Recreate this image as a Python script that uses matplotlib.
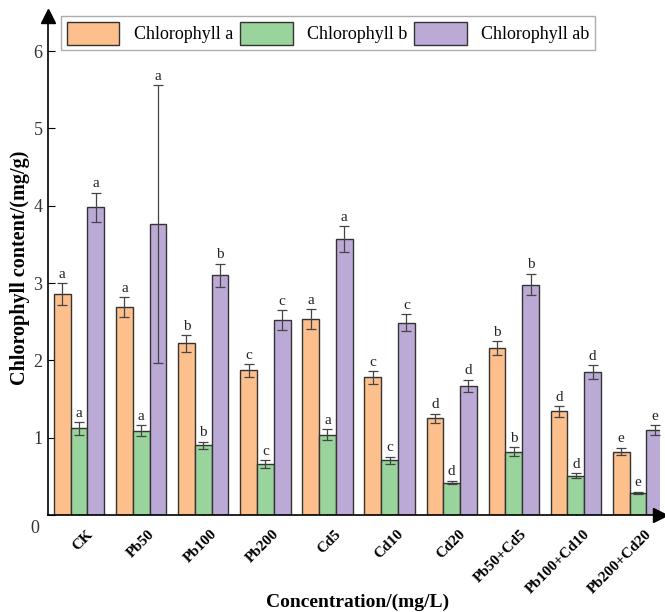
import numpy as np
import matplotlib
matplotlib.use("Agg")
import matplotlib.pyplot as plt
import matplotlib.transforms as mtransforms
from matplotlib.patches import Patch

# ── data ─────────────────────────────────────────────
groups = ["CK", "Pb50", "Pb100", "Pb200", "Cd5", "Cd10", "Cd20",
          "Pb50+Cd5", "Pb100+Cd10", "Pb200+Cd20"]
chl_a = [2.86, 2.69, 2.22, 1.87, 2.53, 1.78, 1.25, 2.16, 1.34, 0.82]
chl_a_err = [0.14, 0.13, 0.11, 0.08, 0.13, 0.08, 0.06, 0.09, 0.07, 0.05]
chl_b = [1.12, 1.09, 0.90, 0.66, 1.04, 0.71, 0.42, 0.82, 0.51, 0.285]
chl_b_err = [0.08, 0.07, 0.05, 0.05, 0.07, 0.045, 0.025, 0.06, 0.035, 0.015]
chl_ab = [3.98, 3.76, 3.10, 2.52, 3.57, 2.49, 1.67, 2.98, 1.85, 1.10]
chl_ab_err = [0.19, 1.80, 0.15, 0.13, 0.17, 0.11, 0.08, 0.14, 0.09, 0.06]
letters = ["a", "a", "b", "c", "a", "c", "d", "b", "d", "e"]

series = [
    ("Chlorophyll a", chl_a, chl_a_err, "#fdbf8c"),
    ("Chlorophyll b", chl_b, chl_b_err, "#98d49b"),
    ("Chlorophyll ab", chl_ab, chl_ab_err, "#bcaad6"),
]

plt.rcParams["font.family"] = ["Liberation Serif", "DejaVu Serif"]

fig = plt.figure(figsize=(6.65, 6.12), dpi=100)
ax = fig.add_axes([48 / 665, 97 / 612, 612 / 665, 498.6 / 612])

x = np.arange(len(groups))
w = 0.27
for k, (name, vals, errs, col) in enumerate(series):
    pos = x + (k - 1) * w
    ax.bar(pos, vals, width=w, color=col, edgecolor="#333333", linewidth=1.0, zorder=2)
    ax.errorbar(pos, vals, yerr=errs, fmt="none", ecolor="#444444",
                elinewidth=0.9, capsize=3.3, capthick=0.9, zorder=3)
    for p, v, e, l in zip(pos, vals, errs, letters):
        ax.text(p, v + e + 0.03, l, ha="center", va="bottom", fontsize=11, color="#222222")

ax.set_xlim(-0.5, 9.355)
ax.set_ylim(0, 6.45)
ax.set_yticks(range(0, 7))
ax.set_xticks(x)
ax.set_xticklabels(groups, rotation=45, ha="right", rotation_mode="anchor",
                   fontweight="bold", fontsize=11)
ax.tick_params(axis="y", direction="in", length=5, labelsize=13, labelcolor="#333333", pad=4)
ax.tick_params(axis="x", direction="in", length=4, pad=8)

# nudge x labels right, and the "0" label down like the original
shift = mtransforms.ScaledTranslation(5 / 72, -1 / 72, fig.dpi_scale_trans)
for lab in ax.get_xticklabels():
    lab.set_transform(lab.get_transform() + shift)
zero_shift = mtransforms.ScaledTranslation(-2 / 72, -8 / 72, fig.dpi_scale_trans)
ylabs = ax.get_yticklabels()
ylabs[0].set_transform(ylabs[0].get_transform() + zero_shift)

for s in ("top", "right"):
    ax.spines[s].set_visible(False)
for s in ("left", "bottom"):
    ax.spines[s].set_linewidth(1.2)

# arrow heads on the axes
ax.plot(0, 1, marker="^", color="black", markersize=10, transform=ax.transAxes, clip_on=False)
ax.plot(1, 0, marker=">", color="black", markersize=10, transform=ax.transAxes, clip_on=False)

ax.set_ylabel("Chlorophyll content/(mg/g)", fontweight="bold", fontsize=14.5)
ax.yaxis.set_label_coords((20 - 48) / 612, (515 - 268) / 498.6)
ax.yaxis.label.set_va("center")
ax.set_xlabel("Concentration/(mg/L)", fontweight="bold", fontsize=14)
ax.xaxis.set_label_coords((358 - 48) / 612, -(602 - 515) / 498.6)
ax.xaxis.label.set_va("center")

handles = [Patch(facecolor=c, edgecolor="#333333", label=n) for n, _, _, c in series]
leg = ax.legend(handles=handles, ncol=3, loc="upper left", bbox_to_anchor=(0.022, 1.0),
                fontsize=13, frameon=True, fancybox=False, edgecolor="#999999",
                handlelength=2.9, handleheight=1.6, columnspacing=0.4,
                handletextpad=0.8, borderpad=0.3, borderaxespad=0.0)
leg.get_frame().set_linewidth(1.0)

fig.savefig("out.png", dpi=100)
